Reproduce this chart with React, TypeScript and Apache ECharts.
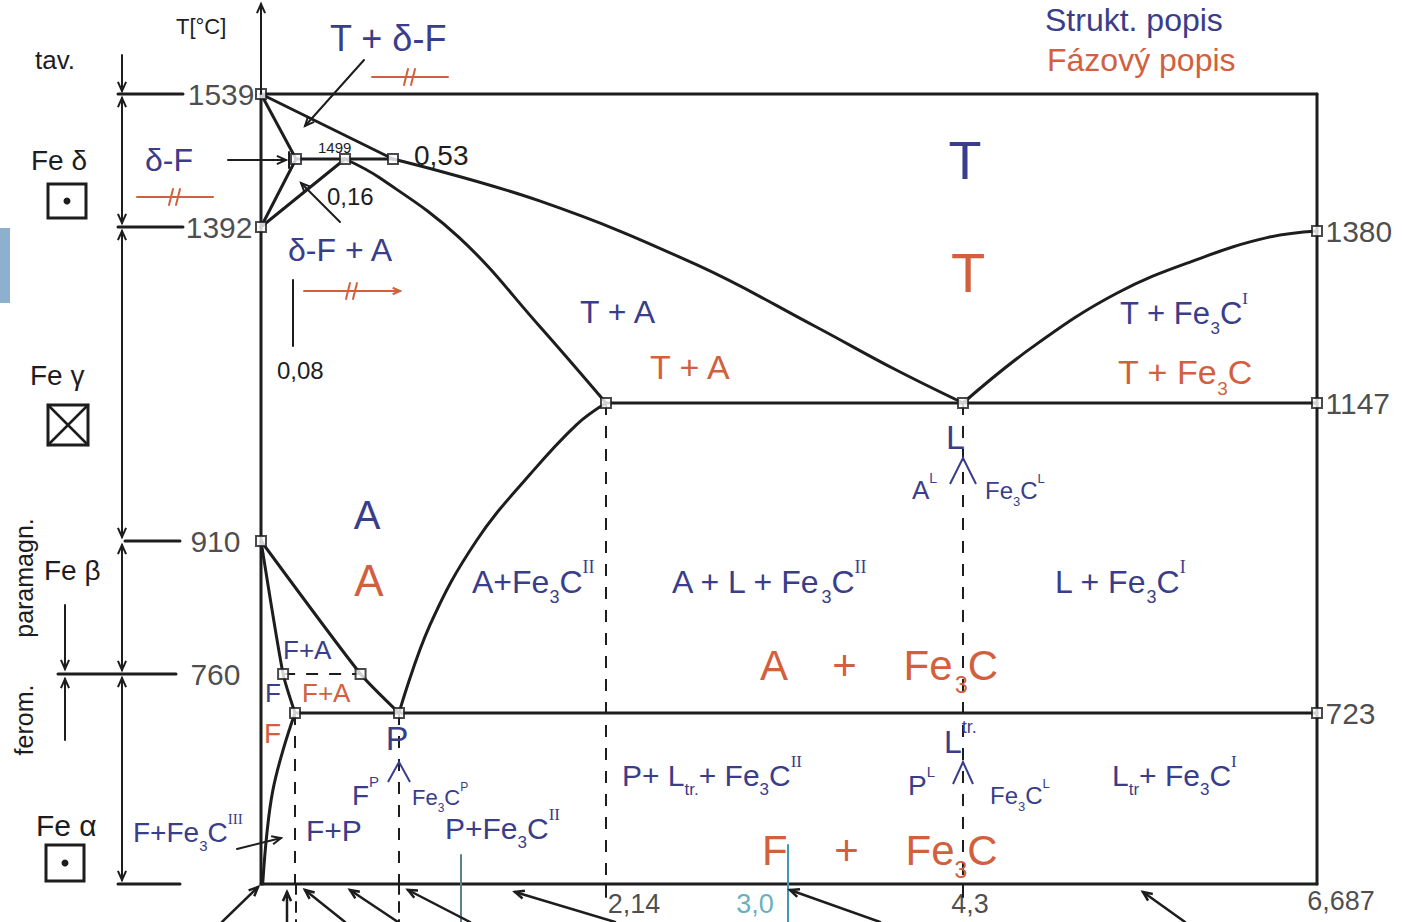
import React, { useEffect, useRef } from "react";
import * as echarts from "echarts";

type Pt = [number, number];

// ---------------- tick labels ----------------
const leftTempTicks = [1539, 1392, 910, 760];
const rightTempTicks = [1380, 1147, 723];
const bottomCompTicks = [2.14, 3.0, 4.3, 6.687];
const bottomCompLabels = ["2,14", "3,0", "4,3", "6,687"];

// ---------------- phase boundaries  [%C, °C] ----------------
const liquidusAB: Pt[] = [[0, 1539], [0.53, 1499]];
const liquidusBC: Pt[] = [[0.53, 1499], [1.71, 1433], [2.57, 1334], [3.2, 1251], [3.79, 1193], [4.3, 1147]];
const liquidusCD: Pt[] = [[4.3, 1147], [4.77, 1223], [5.34, 1296], [5.9, 1343], [6.35, 1371], [6.687, 1380]];
const solidusAH: Pt[] = [[0, 1539], [0.08, 1499]];
const peritecticHB: Pt[] = [[0.08, 1499], [0.53, 1499]];
const deltaHN: Pt[] = [[0.08, 1499], [0, 1392]];
const deltaJN: Pt[] = [[0.16, 1499], [0, 1392]];
const solidusJE: Pt[] = [[0.16, 1499], [0.43, 1469], [1.19, 1371], [1.71, 1251], [2.14, 1147]];
const eutecticECF: Pt[] = [[2.14, 1147], [6.687, 1147]];
const acmES: Pt[] = [[0.8, 723], [1.0, 815], [1.3, 910], [1.65, 1025], [1.95, 1110], [2.14, 1147]];
const a3GS: Pt[] = [[0, 910], [0.28, 760], [0.8, 723]];
const ferriteGP: Pt[] = [[0, 910], [0.013, 760], [0.02, 723]];
const solvusPQ: Pt[] = [[0.02, 723], [0.013, 567], [0.007, 397], [0.0035, 216], [0.001, 0]];
const eutectoidPK: Pt[] = [[0.02, 723], [6.687, 723]];
const curieLine: Pt[] = [[0.013, 760], [0.28, 760]];
const frameTop: Pt[] = [[0, 1539], [6.687, 1539]];
const frameRight: Pt[] = [[6.687, 1539], [6.687, 0]];
const frameBottom: Pt[] = [[0, 0], [6.687, 0]];
const frameLeft: Pt[] = [[0, 1539], [0, 0]];
const dashP: Pt[] = [[0.02, 723], [0.02, 0]];
const dashS: Pt[] = [[0.8, 723], [0.8, 0]];
const dashE: Pt[] = [[2.14, 1147], [2.14, 0]];
const dashC: Pt[] = [[4.3, 1147], [4.3, 0]];
const nodePoints: Pt[] = [
  [0, 1539], [0.08, 1499], [0.16, 1499], [0.53, 1499], [0, 1392],
  [2.14, 1147], [4.3, 1147], [6.687, 1147], [6.687, 1380], [0, 910],
  [0.013, 760], [0.28, 760], [0.8, 723], [0.02, 723], [6.687, 723],
];

// ---------------- hand-drawn (non-linear) axis scales ----------------
const X_SCALE: Pt[] = [[0, 0], [0.02, 34], [0.08, 35], [0.16, 84], [0.53, 132], [0.8, 138], [2.14, 345], [3.0, 527], [4.3, 702], [6.687, 1056]];
const Y_SCALE: Pt[] = [[0, 0], [723, 171], [760, 210], [910, 343], [1147, 481], [1380, 653], [1392, 657], [1499, 725], [1539, 790]];

function warp(table: Pt[], v: number): number {
  for (let i = 1; i < table.length; i++) {
    const [a0, b0] = table[i - 1];
    const [a1, b1] = table[i];
    if (v <= a1 || i === table.length - 1) {
      return b0 + ((v - a0) / (a1 - a0)) * (b1 - b0);
    }
  }
  return 0;
}
const wx = (c: number) => warp(X_SCALE, c);
const wy = (t: number) => warp(Y_SCALE, t);
const toAxis = (pts: Pt[]) => pts.map(([c, t]) => [wx(c), wy(t)]);

// ---------------- styles ----------------
const INK = "#1d1d1f";
const BLUE = "#3a3d8a";
const RED = "#d2603e";
const TEAL = "#3f9bab";
const FONT = "'Liberation Sans', Arial, sans-serif";
const SERIF = "'Liberation Serif', 'DejaVu Serif', serif";
const leftTickGap = [6, 8, 20, 20];
const bottomTickOffset: Pt[] = [[28, 0], [-33, 0], [7, 0], [24, -3]];

function rt(x: number, y: number, text: string, color: string, size: number, align = "left") {
  const sub = Math.round(size * 0.55);
  return {
    type: "text",
    x,
    y,
    silent: true,
    z: 10,
    style: {
      text,
      fill: color,
      align,
      verticalAlign: "middle",
      textAlign: align,
      textVerticalAlign: "middle",
      font: `${size}px ${FONT}`,
      rich: {
        n: { fontSize: size, lineHeight: Math.round(size * 1.5), fill: color, color, fontFamily: FONT },
        s: { fontSize: sub, lineHeight: Math.round(size * 0.62), verticalAlign: "bottom", fill: color, color, fontFamily: FONT },
        p: { fontSize: sub, lineHeight: Math.round(size * 0.62), verticalAlign: "top", fill: color, color, fontFamily: FONT },
        r: { fontSize: sub, lineHeight: Math.round(size * 0.62), verticalAlign: "top", fill: color, color, fontFamily: SERIF },
      },
    },
  };
}

function ln(x1: number, y1: number, x2: number, y2: number, color = INK, w = 2, dash?: number[]) {
  return {
    type: "line",
    silent: true,
    z: 9,
    shape: { x1, y1, x2, y2 },
    style: { stroke: color, lineWidth: w, lineDash: dash, lineCap: "round" },
  };
}

function head(x: number, y: number, ang: number, color = INK, w = 2, len = 10, spread = 0.42) {
  return {
    type: "polyline",
    silent: true,
    z: 9,
    shape: {
      points: [
        [x - len * Math.cos(ang - spread), y - len * Math.sin(ang - spread)],
        [x, y],
        [x - len * Math.cos(ang + spread), y - len * Math.sin(ang + spread)],
      ],
    },
    style: { stroke: color, lineWidth: w, fill: "none" },
  };
}

function arrow(x1: number, y1: number, x2: number, y2: number, end = true, start = false, color = INK, w = 2) {
  const a = Math.atan2(y2 - y1, x2 - x1);
  const out: any[] = [ln(x1, y1, x2, y2, color, w)];
  if (end) out.push(head(x2, y2, a, color, w));
  if (start) out.push(head(x1, y1, a + Math.PI, color, w));
  return out;
}

function redMark(cx: number, cy: number, half: number, withArrow = false) {
  const out: any[] = [ln(cx - half, cy, cx + half, cy, RED, 2)];
  out.push(ln(cx - 6, cy + 8, cx - 2, cy - 8, RED, 2));
  out.push(ln(cx + 1, cy + 8, cx + 5, cy - 8, RED, 2));
  if (withArrow) out.push(head(cx + half, cy, 0, RED, 2, 8));
  return out;
}

function caret(cx: number, top: number, bottom: number, halfW: number, color = BLUE) {
  return {
    type: "polyline",
    silent: true,
    z: 9,
    shape: { points: [[cx - halfW, bottom], [cx, top], [cx + halfW, bottom]] },
    style: { stroke: color, lineWidth: 2, fill: "none" },
  };
}

function buildGraphic() {
  const g: any[] = [];
  // light blue tab at left edge
  g.push({ type: "rect", silent: true, shape: { x: 0, y: 228, width: 10, height: 75 }, style: { fill: "#8db0cf" } });

  // legend
  g.push(rt(1045, 20, "{n|Strukt. popis}", BLUE, 32));
  g.push(rt(1047, 60, "{n|Fázový popis}", RED, 32));

  // axis title and side annotations
  g.push(rt(176, 26, "{n|T[°C]}", INK, 22));
  g.push(...arrow(261, 94, 261, 4));
  g.push(rt(35, 60, "{n|tav.}", INK, 26));
  g.push(rt(31, 160, "{n|Fe δ}", INK, 28));
  g.push(rt(30, 375, "{n|Fe γ}", INK, 28));
  g.push(rt(44, 570, "{n|Fe β}", INK, 28));
  g.push(rt(36, 825, "{n|Fe α}", INK, 30));
  g.push({
    type: "text", x: 24, y: 720, rotation: Math.PI / 2, silent: true,
    style: { text: "ferom.", fill: INK, font: `25px ${FONT}`, align: "center", verticalAlign: "middle", textAlign: "center", textVerticalAlign: "middle" },
  });
  g.push({
    type: "text", x: 24, y: 578, rotation: Math.PI / 2, silent: true,
    style: { text: "paramagn.", fill: INK, font: `25px ${FONT}`, align: "center", verticalAlign: "middle", textAlign: "center", textVerticalAlign: "middle" },
  });

  // lattice icons
  g.push({ type: "rect", silent: true, shape: { x: 48, y: 184, width: 38, height: 34 }, style: { stroke: INK, lineWidth: 3, fill: "none" } });
  g.push({ type: "circle", silent: true, shape: { cx: 67, cy: 201, r: 3.5 }, style: { fill: INK } });
  g.push({ type: "rect", silent: true, shape: { x: 48, y: 405, width: 40, height: 40 }, style: { stroke: INK, lineWidth: 3, fill: "none" } });
  g.push(ln(48, 405, 88, 445, INK, 2.5), ln(88, 405, 48, 445, INK, 2.5));
  g.push({ type: "rect", silent: true, shape: { x: 46, y: 845, width: 38, height: 36 }, style: { stroke: INK, lineWidth: 3, fill: "none" } });
  g.push({ type: "circle", silent: true, shape: { cx: 65, cy: 863, r: 3.5 }, style: { fill: INK } });

  // dimension lines at left
  g.push(...arrow(122, 55, 122, 91));
  g.push(...arrow(122, 98, 122, 223, true, true));
  g.push(...arrow(122, 231, 122, 537, true, true));
  g.push(...arrow(122, 545, 122, 670, true, true));
  g.push(...arrow(122, 678, 122, 880, true, true));
  g.push(...arrow(65, 605, 65, 669));
  g.push(...arrow(65, 740, 65, 679));
  g.push(ln(118, 94, 183, 94, INK, 3), ln(118, 227, 183, 227, INK, 3), ln(125, 541, 180, 541, INK, 3));
  g.push(ln(58, 674, 176, 674, INK, 3), ln(118, 884, 180, 884, INK, 3));

  // small value labels inside
  g.push(rt(318, 147, "{n|1499}", INK, 15));
  g.push(rt(414, 155, "{n|0,53}", INK, 28));
  g.push(rt(327, 196, "{n|0,16}", INK, 24));
  g.push(rt(277, 370, "{n|0,08}", INK, 24));
  g.push(...arrow(340, 222, 301, 183));
  g.push(ln(293, 280, 293, 346, INK, 2));

  // pointers
  g.push(...arrow(364, 60, 305, 126));
  g.push(...arrow(228, 160, 286, 160));
  g.push(ln(289, 152, 289, 168, INK, 2));
  g.push(...arrow(237, 849, 281, 838, true, false, INK, 2));

  // red "//" markers
  g.push(...redMark(410, 77, 38));
  g.push(...redMark(175, 197, 38));
  g.push(...redMark(352, 291, 48, true));

  // structural description (blue)
  g.push(rt(330, 38, "{n|T + δ-F}", BLUE, 36));
  g.push(rt(145, 160, "{n|δ-F}", BLUE, 32));
  g.push(rt(288, 250, "{n|δ-F + A}", BLUE, 32));
  g.push(rt(965, 160, "{n|T}", BLUE, 54, "center"));
  g.push(rt(580, 312, "{n|T + A}", BLUE, 32));
  g.push(rt(1120, 313, "{n|T + Fe}{s|3}{n|C}{r|I}", BLUE, 31));
  g.push(rt(367, 515, "{n|A}", BLUE, 40, "center"));
  g.push(rt(472, 582, "{n|A+Fe}{s|3}{n|C}{r|II}", BLUE, 32));
  g.push(rt(672, 582, "{n|A + L + Fe}{s|3}{n|C}{r|II}", BLUE, 32));
  g.push(rt(1055, 582, "{n|L + Fe}{s|3}{n|C}{r|I}", BLUE, 32));
  g.push(rt(283, 650, "{n|F+A}", BLUE, 26));
  g.push(rt(265, 693, "{n|F}", BLUE, 26));
  g.push(rt(397, 738, "{n|P}", BLUE, 34, "center"));
  g.push(rt(352, 795, "{n|F}{p|P}", BLUE, 28));
  g.push(rt(412, 797, "{n|Fe}{s|3}{n|C}{p|P}", BLUE, 22));
  g.push(caret(399, 762, 782, 11));
  g.push(rt(133, 832, "{n|F+Fe}{s|3}{n|C}{r|III}", BLUE, 28));
  g.push(rt(306, 830, "{n|F+P}", BLUE, 30));
  g.push(rt(445, 828, "{n|P+Fe}{s|3}{n|C}{r|II}", BLUE, 30));
  g.push(rt(622, 775, "{n|P+ L}{s|tr.}{n|+ Fe}{s|3}{n|C}{r|II}", BLUE, 30));
  g.push(rt(946, 437, "{n|L}", BLUE, 34));
  g.push(caret(963, 458, 484, 13));
  g.push(rt(912, 490, "{n|A}{p|L}", BLUE, 26));
  g.push(rt(985, 490, "{n|Fe}{s|3}{n|C}{p|L}", BLUE, 24));
  g.push(rt(944, 742, "{n|L}{p|tr.}", BLUE, 32));
  g.push(caret(963, 762, 784, 10));
  g.push(rt(908, 785, "{n|P}{p|L}", BLUE, 28));
  g.push(rt(990, 795, "{n|Fe}{s|3}{n|C}{p|L}", BLUE, 24));
  g.push(rt(1112, 775, "{n|L}{s|tr}{n|+ Fe}{s|3}{n|C}{r|I}", BLUE, 30));

  // phase description (red)
  g.push(rt(968, 272, "{n|T}", RED, 56, "center"));
  g.push(rt(650, 367, "{n|T + A}", RED, 34));
  g.push(rt(1118, 372, "{n|T + Fe}{s|3}{n|C}", RED, 34));
  g.push(rt(369, 580, "{n|A}", RED, 44, "center"));
  g.push(rt(760, 665, "{n|A    +    Fe}{s|3}{n|C}", RED, 42));
  g.push(rt(302, 693, "{n|F+A}", RED, 26));
  g.push(rt(264, 733, "{n|F}", RED, 28));
  g.push(rt(762, 850, "{n|F    +    Fe}{s|3}{n|C}", RED, 42));

  // helper lines below the axis
  g.push(ln(296, 884, 296, 922, INK, 2, [10, 8]));
  g.push(ln(399, 884, 399, 922, INK, 2, [10, 8]));
  g.push(ln(606, 884, 606, 897, INK, 2));
  g.push(ln(963, 884, 963, 897, INK, 2));
  g.push(ln(461, 855, 461, 922, "#5b7f8c", 2));
  g.push(ln(788, 845, 788, 922, TEAL, 2));

  // arrows from below
  const tips: Pt[] = [[258, 887], [287, 892], [305, 890], [350, 890], [408, 890], [515, 892], [790, 890], [1143, 892]];
  const starts: Pt[] = [[222, 922], [287, 922], [345, 922], [398, 922], [470, 922], [615, 922], [880, 922], [1185, 922]];
  tips.forEach((t, i) => g.push(...arrow(starts[i][0], starts[i][1], t[0], t[1], true, false, INK, 2.5)));
  return g;
}

function curve(name: string, pts: Pt[], smooth: boolean | number = false) {
  return {
    name,
    type: "line",
    data: toAxis(pts),
    symbol: "none",
    smooth,
    silent: true,
    clip: false,
    z: 3,
    lineStyle: { color: INK, width: 3, cap: "round", join: "round" },
  };
}
function dashed(name: string, pts: Pt[]) {
  return {
    name,
    type: "line",
    data: toAxis(pts),
    symbol: "none",
    silent: true,
    clip: false,
    z: 2,
    lineStyle: { color: INK, width: 2, type: [12, 11] },
  };
}

function buildOption(): any {
  return {
    animation: false,
    backgroundColor: "#ffffff",
    grid: { left: 261, top: 94, width: wx(6.687), height: wy(1539), show: false },
    xAxis: { type: "value", min: 0, max: wx(6.687), show: false },
    yAxis: { type: "value", min: 0, max: wy(1539), show: false },
    tooltip: { show: false },
    series: [
      curve("frameTop", frameTop),
      curve("frameRight", frameRight),
      curve("frameBottom", frameBottom),
      curve("frameLeft", frameLeft),
      curve("liquidusAB", liquidusAB),
      curve("liquidusBC", liquidusBC, 0.4),
      curve("liquidusCD", liquidusCD, 0.4),
      curve("solidusAH", solidusAH),
      curve("peritecticHB", peritecticHB),
      curve("deltaHN", deltaHN),
      curve("deltaJN", deltaJN),
      curve("solidusJE", solidusJE, 0.4),
      curve("eutecticECF", eutecticECF),
      curve("acmES", acmES, 0.4),
      curve("a3GS", a3GS, 0.2),
      curve("ferriteGP", ferriteGP, 0.2),
      curve("solvusPQ", solvusPQ, 0.4),
      curve("eutectoidPK", eutectoidPK),
      dashed("curie", curieLine),
      dashed("dashP", dashP),
      dashed("dashS", dashS),
      dashed("dashE", dashE),
      dashed("dashC", dashC),
      {
        name: "nodes",
        type: "scatter",
        data: toAxis(nodePoints),
        symbol: "rect",
        symbolSize: 10,
        silent: true,
        z: 6,
        itemStyle: { color: "#ffffff", borderColor: INK, borderWidth: 2 },
      },
      {
        name: "leftTicks",
        type: "scatter",
        data: leftTempTicks.map((t, i) => ({ value: [wx(0), wy(t)], label: { distance: leftTickGap[i] } })),
        symbolSize: 1,
        silent: true,
        z: 7,
        itemStyle: { color: "transparent" },
        label: {
          show: true,
          position: "left",
          formatter: (p: any) => String(leftTempTicks[p.dataIndex]),
          fontSize: 30,
          fontFamily: FONT,
          color: INK,
        },
      },
      {
        name: "rightTicks",
        type: "scatter",
        data: rightTempTicks.map((t) => [wx(6.687), wy(t)]),
        symbolSize: 1,
        silent: true,
        z: 7,
        itemStyle: { color: "transparent" },
        label: {
          show: true,
          position: "right",
          distance: 8,
          formatter: (p: any) => String(rightTempTicks[p.dataIndex]),
          fontSize: 30,
          fontFamily: FONT,
          color: INK,
        },
      },
      {
        name: "bottomTicks",
        type: "scatter",
        data: bottomCompTicks.map((c, i) => ({
          value: [wx(c), wy(0)],
          label: { offset: bottomTickOffset[i], color: i === 1 ? TEAL : INK },
        })),
        symbolSize: 1,
        silent: true,
        z: 7,
        itemStyle: { color: "transparent" },
        label: {
          show: true,
          position: "bottom",
          distance: 6,
          formatter: (p: any) => bottomCompLabels[p.dataIndex],
          fontSize: 27,
          fontFamily: FONT,
          color: INK,
        },
      },
    ],
    graphic: buildGraphic(),
  };
}

export default function App() {
  const ref = useRef<HTMLDivElement>(null);
  useEffect(() => {
    document.body.style.margin = "0";
    const chart = echarts.init(ref.current as HTMLDivElement, null, { renderer: "svg" });
    chart.setOption(buildOption());
    return () => chart.dispose();
  }, []);
  return (
    <div
      ref={ref}
      style={{ position: "absolute", left: 0, top: 0, width: 1403, height: 922, background: "#ffffff" }}
    />
  );
}
